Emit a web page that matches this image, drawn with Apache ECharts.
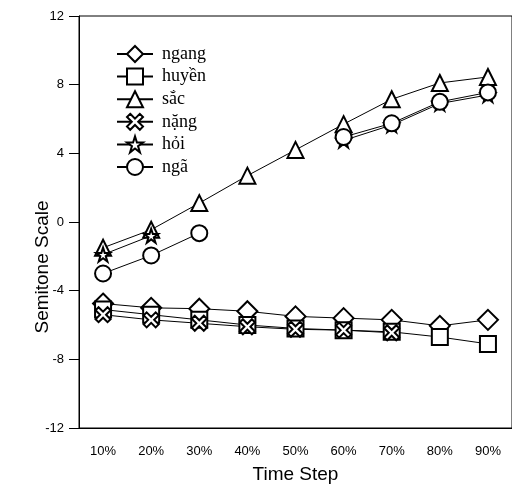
<!DOCTYPE html>
<html lang="vi">
<head>
<meta charset="UTF-8">
<title>Semitone Scale</title>
<script src="https://cdn.jsdelivr.net/npm/echarts@6/dist/echarts.min.js"></script>
<style>
html, body { margin: 0; padding: 0; background: #fff; }
#main { width: 512px; height: 497px; }
</style>
</head>
<body>
<div id="main"></div>
<script>
// data
var steps = ['10%', '20%', '30%', '40%', '50%', '60%', '70%', '80%', '90%'];
var ngang = [-4.75, -5.0, -5.05, -5.2, -5.5, -5.6, -5.7, -6.05, -5.7];
var huyen = [-5.1, -5.4, -5.7, -6.0, -6.2, -6.3, -6.4, -6.7, -7.1];
var sac   = [-1.5, -0.45, 1.1, 2.7, 4.2, 5.7, 7.15, 8.1, 8.45];
var nang  = [-5.4, -5.7, -5.9, -6.1, -6.25, -6.3, -6.45, null, null];
var hoi   = [-1.9, -0.8, null, null, null, 4.75, 5.65, 6.9, 7.4];
var nga   = [-3.0, -1.95, -0.65, null, null, 4.95, 5.75, 7.0, 7.55];
var yTicks = [-12, -8, -4, 0, 4, 8, 12];

var crossPath = 'path://M2,0 L5,3 L8,0 L10,2 L7,5 L10,8 L8,10 L5,7 L2,10 L0,8 L3,5 L0,2 Z';
var starPath = 'path://M5,0 L6.2,3.6 L10,3.6 L6.9,5.8 L8.1,9.5 L5,7.2 L1.9,9.5 L3.1,5.8 L0,3.6 L3.8,3.6 Z';

function mk(name, data, symbol, size) {
    return {
        name: name,
        type: 'line',
        data: data,
        symbol: symbol,
        symbolSize: size,
        showAllSymbol: true,
        lineStyle: { color: '#000', width: 1 },
        itemStyle: { color: '#fff', borderColor: '#000', borderWidth: 2 },
        emphasis: { disabled: true }
    };
}

var myChart = echarts.init(document.getElementById('main'));
var option = {
    animation: false,
    backgroundColor: '#fff',
    grid: {
        left: 79, top: 16, width: 435, bottom: 69,
        show: true, borderColor: '#000', borderWidth: 1
    },
    legend: {
        orient: 'vertical',
        left: 111, top: 39,
        itemWidth: 36, itemHeight: 20, itemGap: 2.6,
        textStyle: { fontFamily: 'Liberation Serif', fontSize: 18, color: '#000', lineHeight: 20, padding: [0, 0, 0, 4] },
        data: ['ngang', 'huyền', 'sắc', 'nặng', 'hỏi', 'ngã']
    },
    xAxis: {
        type: 'category',
        data: steps,
        boundaryGap: true,
        name: 'Time Step',
        nameLocation: 'middle',
        nameGap: 37,
        nameMoveOverlap: false,
        nameTextStyle: { fontFamily: 'Liberation Sans', fontSize: 19, color: '#000' },
        axisLine: { onZero: false, lineStyle: { color: '#000', width: 1 } },
        axisTick: { alignWithLabel: true, length: 7, lineStyle: { color: '#000' } },
        axisLabel: { margin: 17, fontFamily: 'Liberation Sans', fontSize: 13, color: '#000' },
        splitLine: { show: false }
    },
    yAxis: {
        type: 'value',
        min: yTicks[0], max: yTicks[yTicks.length - 1], interval: 4,
        name: 'Semitone Scale',
        nameLocation: 'middle',
        nameGap: 27,
        nameMoveOverlap: false,
        nameTextStyle: { fontFamily: 'Liberation Sans', fontSize: 19, color: '#000', padding: [0, 90, 0, 0] },
        axisLine: { show: true, lineStyle: { color: '#000', width: 1 } },
        axisTick: { show: true, length: 10, lineStyle: { color: '#000' } },
        axisLabel: { margin: 15, fontFamily: 'Liberation Sans', fontSize: 13, color: '#000' },
        splitLine: { show: false }
    },
    series: [
        mk('ngang', ngang, 'diamond', 20),
        mk('huyền', huyen, 'rect', 16),
        mk('sắc', sac, 'triangle', 16),
        mk('nặng', nang, crossPath, 15),
        mk('hỏi', hoi, starPath, 14),
        mk('ngã', nga, 'circle', 16)
    ]
};
myChart.setOption(option);
</script>
</body>
</html>
